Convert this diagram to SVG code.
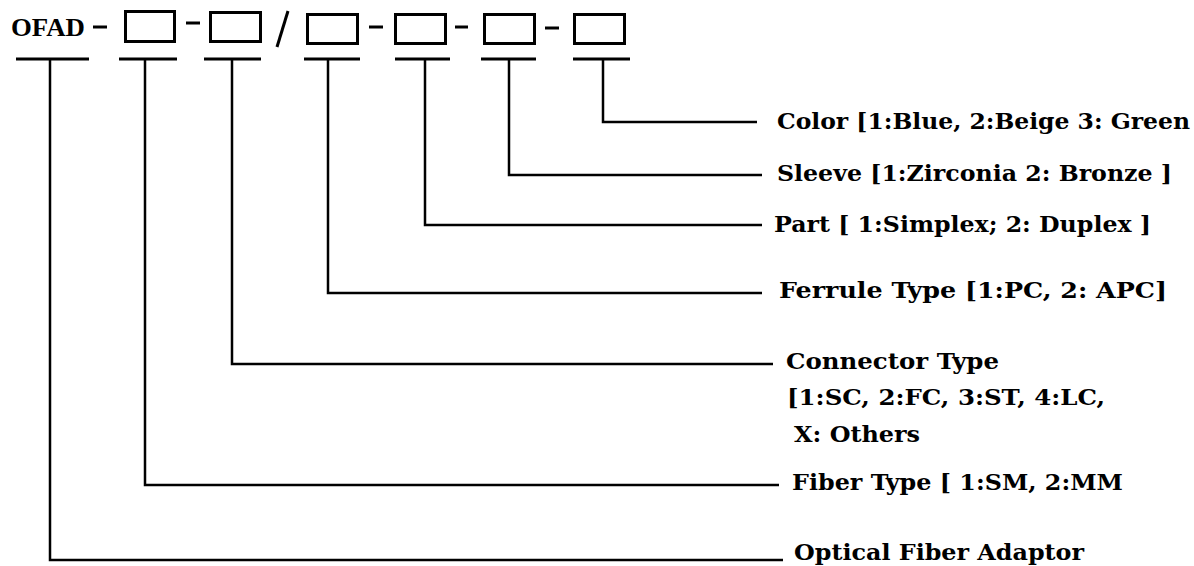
<svg xmlns="http://www.w3.org/2000/svg" width="1194" height="566" viewBox="0 0 1194 566">
<style>
.bx{fill:none;stroke:#000;stroke-width:3}
.ul{stroke:#000;stroke-width:3;fill:none}
.dash{stroke:#000;stroke-width:3}
.cn{fill:none;stroke:#000;stroke-width:2.5}
.lbl{font-family:"DejaVu Serif",serif;font-weight:bold;font-size:22px;fill:#000}
.code{font-family:"Liberation Serif",serif;font-weight:bold;font-size:25px;fill:#000}
</style>
<rect width="1194" height="566" fill="#fff"/>
<g id="code-prefix">
<text class="code" x="11" y="36" textLength="74" lengthAdjust="spacingAndGlyphs">OFAD</text>
<line class="ul" x1="16" y1="59" x2="89" y2="59"/>
</g>
<g id="separators">
<line class="dash" x1="93" y1="27" x2="107" y2="27"/>
<line class="dash" x1="186" y1="23" x2="200" y2="23"/>
<line class="dash" x1="288" y1="11" x2="277" y2="47"/>
<line class="dash" x1="369" y1="27" x2="383" y2="27"/>
<line class="dash" x1="455" y1="27" x2="468" y2="27"/>
<line class="dash" x1="545" y1="28" x2="559" y2="28"/>
</g>
<g id="box-fiber">
<rect class="bx" x="125.5" y="11.5" width="49" height="30"/>
<line class="ul" x1="119" y1="59" x2="177" y2="59"/>
</g>
<g id="box-connector">
<rect class="bx" x="210.5" y="12.5" width="50" height="29"/>
<line class="ul" x1="204" y1="59" x2="261" y2="59"/>
</g>
<g id="box-ferrule">
<rect class="bx" x="307.5" y="14.5" width="50" height="29"/>
<line class="ul" x1="304" y1="59" x2="360" y2="59"/>
</g>
<g id="box-part">
<rect class="bx" x="395.5" y="14.5" width="50" height="29"/>
<line class="ul" x1="395" y1="59" x2="450" y2="59"/>
</g>
<g id="box-sleeve">
<rect class="bx" x="484.5" y="14.5" width="50" height="29"/>
<line class="ul" x1="481" y1="59" x2="536" y2="59"/>
</g>
<g id="box-color">
<rect class="bx" x="574.5" y="14.5" width="50" height="29"/>
<line class="ul" x1="573" y1="59" x2="630" y2="59"/>
</g>
<g id="connectors">
<path class="cn" d="M50 59 V560 H783"/>
<path class="cn" d="M145 59 V485 H779"/>
<path class="cn" d="M232 59 V364 H773"/>
<path class="cn" d="M328 59 V293 H762"/>
<path class="cn" d="M425 59 V225 H762"/>
<path class="cn" d="M509 59 V175 H762"/>
<path class="cn" d="M603 59 V122 H757"/>
</g>
<g id="label-color"><text class="lbl" x="777" y="129" textLength="413" lengthAdjust="spacingAndGlyphs">Color [1:Blue, 2:Beige 3: Green</text></g>
<g id="label-sleeve"><text class="lbl" x="777" y="181" textLength="395" lengthAdjust="spacingAndGlyphs">Sleeve [1:Zirconia 2: Bronze ]</text></g>
<g id="label-part"><text class="lbl" x="774" y="232" textLength="377" lengthAdjust="spacingAndGlyphs">Part [ 1:Simplex; 2: Duplex ]</text></g>
<g id="label-ferrule"><text class="lbl" x="779" y="298" textLength="388" lengthAdjust="spacingAndGlyphs">Ferrule Type [1:PC, 2: APC]</text></g>
<g id="label-connector">
<text class="lbl" x="786" y="369" textLength="213" lengthAdjust="spacingAndGlyphs">Connector Type</text>
<text class="lbl" x="787" y="405" textLength="318" lengthAdjust="spacingAndGlyphs">[1:SC, 2:FC, 3:ST, 4:LC,</text>
<text class="lbl" x="794" y="442" textLength="126" lengthAdjust="spacingAndGlyphs">X: Others</text>
</g>
<g id="label-fiber"><text class="lbl" x="792" y="490" textLength="331" lengthAdjust="spacingAndGlyphs">Fiber Type [ 1:SM, 2:MM</text></g>
<g id="label-adaptor"><text class="lbl" x="794" y="560" textLength="290" lengthAdjust="spacingAndGlyphs">Optical Fiber Adaptor</text></g>
</svg>
